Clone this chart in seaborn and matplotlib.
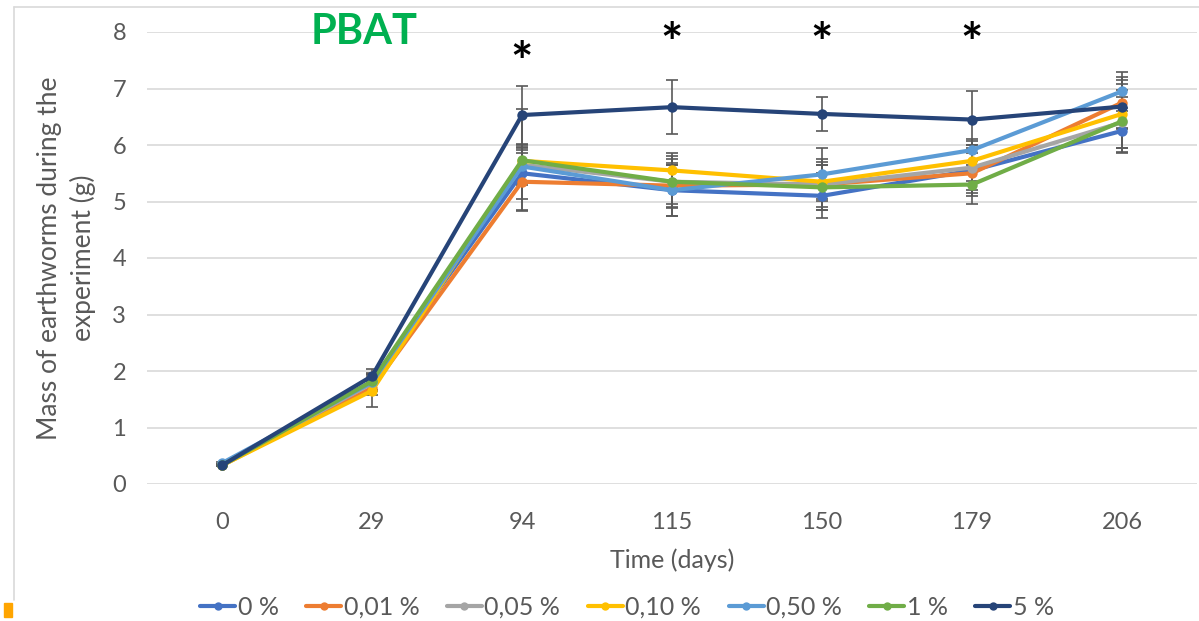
import pandas as pd
import matplotlib.pyplot as plt
import seaborn as sns
import numpy as np
from matplotlib.lines import Line2D
from matplotlib.patches import Rectangle

# Data
days = ['0', '29', '94', '115', '150', '179', '206']
series_names = ['0 %', '0,01 %', '0,05 %', '0,10 %', '0,50 %', '1 %', '5 %']
colors = ['#4472C4', '#ED7D31', '#A5A5A5', '#FFC000', '#5B9BD5', '#70AD47', '#264478']

mass_0 = [0.33, 1.80, 5.50, 5.20, 5.10, 5.55, 6.25]
mass_001 = [0.33, 1.70, 5.35, 5.28, 5.30, 5.50, 6.75]
mass_005 = [0.34, 1.78, 5.65, 5.35, 5.30, 5.60, 6.40]
mass_010 = [0.33, 1.65, 5.72, 5.55, 5.35, 5.72, 6.55]
mass_050 = [0.37, 1.80, 5.62, 5.20, 5.48, 5.91, 6.95]
mass_1 = [0.33, 1.82, 5.73, 5.35, 5.25, 5.30, 6.42]
mass_5 = [0.33, 1.91, 6.53, 6.67, 6.55, 6.45, 6.68]

err_0 = [0.02, 0.15, 0.45, 0.45, 0.40, 0.45, 0.40]
err_001 = [0.02, 0.12, 0.50, 0.40, 0.40, 0.35, 0.45]
err_005 = [0.02, 0.12, 0.35, 0.40, 0.45, 0.40, 0.45]
err_010 = [0.02, 0.28, 0.25, 0.30, 0.30, 0.35, 0.60]
err_050 = [0.02, 0.15, 0.30, 0.45, 0.47, 0.20, 0.35]
err_1 = [0.02, 0.15, 0.90, 0.45, 0.40, 0.35, 0.55]
err_5 = [0.02, 0.12, 0.52, 0.48, 0.30, 0.50, 0.40]

# significance stars (day, height)
star_days = ['94', '115', '150', '179']
star_y = [7.40, 7.75, 7.75, 7.75]

masses = [mass_0, mass_001, mass_005, mass_010, mass_050, mass_1, mass_5]
errors = [err_0, err_001, err_005, err_010, err_050, err_1, err_5]

pos = np.arange(len(days))
rows = []
for name, m, e in zip(series_names, masses, errors):
    for p, v, s in zip(pos, m, e):
        rows.append({'pos': p, 'mass': v, 'err': s, 'series': name})
df = pd.DataFrame(rows)

sns.set_style('white')
plt.rcParams['font.family'] = ['Lato', 'DejaVu Sans']

fig = plt.figure(figsize=(11.99, 6.21), dpi=100)
# plot area: x from 147 to 1197 px, y from 32 to 484 px
ax = fig.add_axes([147 / 1199, 1 - 484 / 621, 1050 / 1199, 452 / 621])

grey_txt = '#595959'

# error bars first, then lines on top
for name in series_names:
    sub = df[df['series'] == name]
    ax.errorbar(sub['pos'], sub['mass'], yerr=sub['err'], fmt='none',
                ecolor='#595959', elinewidth=1.2, capsize=4, capthick=1.2, zorder=2)

sns.lineplot(data=df, x='pos', y='mass', hue='series', hue_order=series_names,
             palette=colors, marker='o', markersize=7.5, markeredgewidth=0,
             linewidth=3, ax=ax, legend=False, zorder=3)

ax.set_xlim(-0.5, 6.5)
ax.set_ylim(0, 8)
ax.set_xticks(pos)
ax.set_xticklabels(days)
ax.set_yticks(range(0, 9))
ax.tick_params(axis='both', length=0, labelsize=17, colors=grey_txt)
ax.tick_params(axis='x', pad=20)
ax.tick_params(axis='y', pad=15)
ax.grid(axis='y', color='#d9d9d9', linewidth=1.2)
ax.set_axisbelow(True)
for s in ax.spines.values():
    s.set_visible(False)

ax.set_xlabel('Time (days)', fontsize=18, color=grey_txt, labelpad=11)
ax.set_ylabel('Mass of earthworms during the\nexperiment (g)', fontsize=19,
              color=grey_txt, labelpad=12, linespacing=1.35)

for d, y in zip(star_days, star_y):
    ax.text(days.index(d), y, '*', fontsize=38, fontweight='bold', ha='center',
            va='center', color='black', clip_on=False)

ax.text(0.95, 8.0, 'PBAT', fontsize=30, fontweight='bold', color='#00B050',
        ha='center', va='center', clip_on=False)

handles = [Line2D([0], [0], color=c, linewidth=3, marker='o', markersize=6,
                  markeredgewidth=0) for c in colors]
fig.legend(handles, series_names, loc='center', bbox_to_anchor=(0.523, 0.022),
           ncol=7, frameon=False, fontsize=18, handlelength=1.4,
           handletextpad=0.1, columnspacing=1.1, labelcolor=grey_txt)

# slide frame and marker
fig.add_artist(Line2D([14 / 1199, 1], [1 - 7 / 621, 1 - 7 / 621], color='#d9d9d9', linewidth=1.2))
fig.add_artist(Line2D([14 / 1199, 14 / 1199], [1 - 7 / 621, 1 - 600 / 621], color='#d9d9d9', linewidth=1.2))
fig.add_artist(Rectangle((4 / 1199, 4 / 621), 8 / 1199, 14 / 621, color='#FFA500'))

plt.savefig('out.png', dpi=100)
